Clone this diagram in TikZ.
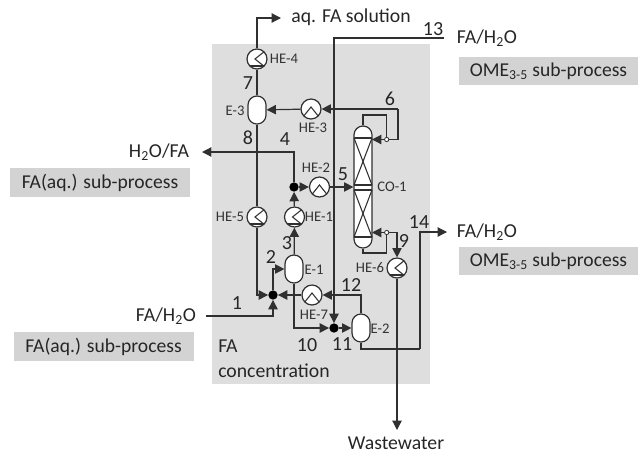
\documentclass[tikz,border=0pt]{standalone}
\usepackage{fontspec}
\setmainfont{Carlito}
\usetikzlibrary{arrows.meta}
\definecolor{areagray}{HTML}{DEDEDE}
\definecolor{linegray}{HTML}{303030}
\tikzset{
    pipe/.style={draw=linegray, line width=0.9pt},
    flow/.style={pipe, -{Triangle[length=7pt,width=7pt]}},
    vessel/.style={draw=linegray, line width=0.9pt, fill=white, rounded corners=6.7pt, minimum width=13.5pt, minimum height=21pt, inner sep=0pt},
    column/.style={vessel, minimum height=91.5pt},
    hxbase/.style={circle, draw=linegray, line width=0.9pt, fill=white, minimum size=15pt, inner sep=0pt},
    hxv/.style={hxbase, path picture={
        \draw[linegray, line width=0.8pt] ([shift={(8,-8)}]path picture bounding box.center) -- ([shift={(-2,0)}]path picture bounding box.center) -- ([shift={(8,8)}]path picture bounding box.center);
        \draw[linegray, line width=0.8pt] ([shift={(-10,7)}]path picture bounding box.center) -- ([shift={(10,7)}]path picture bounding box.center);}},
    hxh/.style={hxbase, path picture={
        \draw[linegray, line width=0.8pt] ([shift={(-8,8)}]path picture bounding box.center) -- ([shift={(0,-2)}]path picture bounding box.center) -- ([shift={(8,8)}]path picture bounding box.center);}},
    mixer/.style={circle, fill=black, minimum size=7pt, inner sep=0pt},
    splitter/.style={circle, draw=linegray, line width=0.6pt, fill=white, minimum size=3.2pt, inner sep=0pt},
    stream/.style={text=black!85, font=\fontsize{15}{17}\selectfont, inner sep=0pt},
    unitname/.style={text=black!80, font=\fontsize{11}{13}\selectfont, inner sep=0pt},
    endname/.style={text=black!85, font=\fontsize{14.8}{17}\selectfont, inner sep=0pt},
    subbox/.style={fill=areagray!95!black, text=black!85, font=\fontsize{14.7}{17}\selectfont, minimum height=21.5pt, minimum width=135pt, inner sep=0pt}
}
\begin{document}
\begin{tikzpicture}[x=0.75pt, y=-0.75pt]
    \useasboundingbox (0,0) rectangle (638,455);
    \node[fill=areagray, minimum width=163.5pt, minimum height=255pt, inner sep=0pt] (area) at (321,214) {};

    % grey sub-process labels
    \node[subbox] (ome1) at (548.5,71) {OME\textsubscript{3-5} sub-process};
    \node[subbox] (ome2) at (548.5,261) {OME\textsubscript{3-5} sub-process};
    \node[subbox] (faq1) at (100,182.5) {FA(aq.) sub-process};
    \node[subbox] (faq2) at (103.5,346.5) {FA(aq.) sub-process};

    % units
    \node[hxv] (he4) at (257,59) {};
    \node[vessel] (e3) at (257,110) {};
    \node[hxh] (he3) at (311,109) {};
    \node[hxh] (he2) at (319.5,187) {};
    \node[hxv] (he5) at (257,217) {};
    \node[hxv] (he1) at (294.5,217) {};
    \node[vessel] (e1) at (294,269) {};
    \node[hxh] (he7) at (312,295) {};
    \node[vessel] (e2) at (361,328) {};
    \node[hxv] (he6) at (397,268) {};
    \node[column] (co1) at (363,187) {};
    \draw[linegray, line width=0.8pt] (354,138) -- (372,138);
    \draw[linegray, line width=0.8pt] (354,237) -- (372,237);
    \draw[linegray, line width=0.8pt] (354,185) -- (372,185);
    \draw[linegray, line width=0.8pt] (354,190) -- (372,190);
    \draw[linegray, line width=0.8pt] (354,138) -- (372,185);
    \draw[linegray, line width=0.8pt] (372,138) -- (354,185);
    \draw[linegray, line width=0.8pt] (354,190) -- (372,237);
    \draw[linegray, line width=0.8pt] (372,190) -- (354,237);

    \node[mixer] (j1) at (273,295) {};
    \node[mixer] (j2) at (294,187) {};
    \node[mixer] (j3) at (334,328) {};
    \node[splitter] (rt1) at (386.7,139.5) {};
    \node[splitter] (rb1) at (386.7,232.5) {};

    % free ends and bends
    \coordinate (faout) at (281,18);
    \coordinate (h2oout) at (202,152);
    \coordinate (feedin) at (206,316);
    \coordinate (in13) at (444,38);
    \coordinate (out14) at (447,232);
    \coordinate (wwout) at (397,430);
    \coordinate (b14) at (420,349);
    \coordinate (rtop) at (386.7,115);
    \coordinate (r6) at (398,109);
    \coordinate (bbot) at (386.7,253);
    \coordinate (cot) at (372,139.5);
    \coordinate (cob) at (372,232.5);

    % streams
    \draw[flow] (he4.north) |- (faout);
    \draw[pipe] (e3) -- (he4);
    \draw[pipe] (e3) -- (he5);
    \draw[flow] (he5.south) |- (j1);
    \draw[flow] (feedin) -| (j1);
    \draw[flow] (j1) |- (e1.west);
    \draw[flow] (e1) -- (he1);
    \draw[flow] (he1) -- (j2);
    \draw[flow] (j2) -- (he2);
    \draw[flow] (j2) |- (h2oout);
    \draw[flow] (he2) -- (co1);
    \draw[flow] (he7) -- (j1);
    \draw[flow] (e1.south) |- (j3);
    \draw[flow] (in13) -| (j3);
    \draw[flow] (j3) -- (e2);
    \draw[flow] (e2.north) |- (he7);
    \draw[pipe] (e2.south) |- (b14);
    \draw[flow] (b14) |- (out14);
    \draw[pipe] (co1.north) |- (rtop) -- (rt1);
    \draw[flow] (rt1) -- (cot);
    \draw[pipe] (rt1) -| (r6);
    \draw[flow] (r6) -- (he3);
    \draw[flow] (he3) -- (e3);
    \draw[pipe] (co1.south) |- (bbot) -- (rb1);
    \draw[flow] (rb1) -- (cob);
    \draw[flow] (rb1) -| (he6);
    \draw[flow] (he6) -- (wwout);

    % stream numbers
    \node[stream] (s1) at (237,303) {1};
    \node[stream] (s2) at (271,257) {2};
    \node[stream] (s3) at (287,243) {3};
    \node[stream] (s4) at (285,139) {4};
    \node[stream] (s5) at (343,174) {5};
    \node[stream] (s6) at (390,99) {6};
    \node[stream] (s7) at (248,83) {7};
    \node[stream] (s8) at (248,138) {8};
    \node[stream] (s9) at (404,241) {9};
    \node[stream] (s10) at (307,345) {10};
    \node[stream] (s11) at (342,344) {11};
    \node[stream] (s12) at (351,285) {12};
    \node[stream] (s13) at (433,29) {13};
    \node[stream] (s14) at (419,222) {14};

    % unit names
    \node[unitname] (nhe4) at (284,59) {HE-4};
    \node[unitname] (ne3) at (235,111) {E-3};
    \node[unitname] (nhe3) at (313,128) {HE-3};
    \node[unitname] (nhe2) at (316,168) {HE-2};
    \node[unitname] (nco1) at (392,187) {CO-1};
    \node[unitname] (nhe5) at (230,217) {HE-5};
    \node[unitname] (nhe1) at (319,217) {HE-1};
    \node[unitname] (ne1) at (314,270) {E-1};
    \node[unitname] (nhe7) at (314,315) {HE-7};
    \node[unitname] (ne2) at (380,329) {E-2};
    \node[unitname] (nhe6) at (370,268) {HE-6};

    % stream ends
    \node[endname] (naq) at (351,17) {aq. FA solution};
    \node[endname] (nfa1) at (487,38) {FA/H\textsubscript{2}O};
    \node[endname] (nfa2) at (487,232) {FA/H\textsubscript{2}O};
    \node[endname] (nfa3) at (166,316) {FA/H\textsubscript{2}O};
    \node[endname] (nh2o) at (159,152) {H\textsubscript{2}O/FA};
    \node[endname] (nww) at (396,443) {Wastewater};
    \node[endname, anchor=west] (nconc1) at (218,346) {FA};
    \node[endname, anchor=west] (nconc2) at (218,371) {concentration};
\end{tikzpicture}
\end{document}
